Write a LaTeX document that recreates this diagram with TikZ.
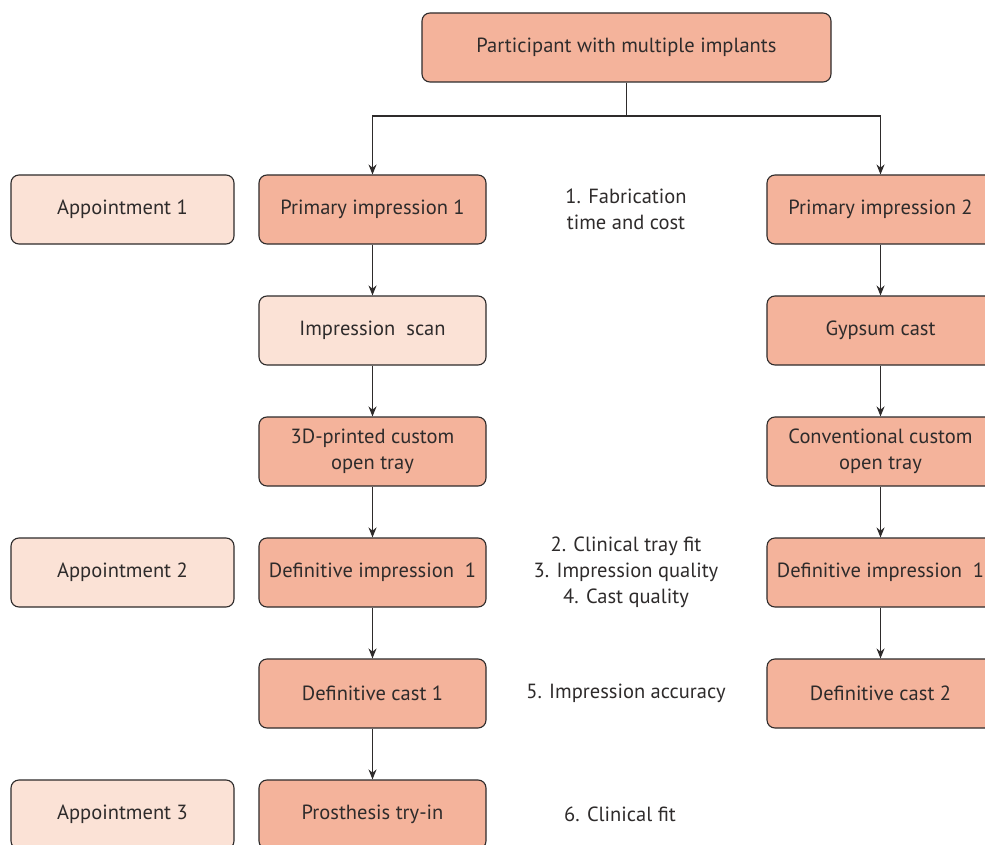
\documentclass[tikz,border=0pt]{standalone}
\usepackage{fontspec}
\setmainfont{PT Sans}
\usetikzlibrary{arrows.meta}
\definecolor{darkfill}{HTML}{F4B39B}
\definecolor{lightfill}{HTML}{FBE2D6}
\definecolor{edge}{HTML}{2E2B2B}
\tikzset{
  box/.style={draw=edge, line width=1.1pt, rounded corners=8pt, minimum width=227pt, minimum height=69pt, align=center, font=\fontsize{20.5}{26}\selectfont, text=edge, inner sep=2pt},
  dbox/.style={box, fill=darkfill},
  lbox/.style={box, fill=lightfill},
  note/.style={align=center, font=\fontsize{20.5}{26}\selectfont, text=edge},
  arr/.style={draw=edge, line width=1.1pt, -{Stealth[length=10pt,width=8pt]}},
  ln/.style={draw=edge, line width=1.1pt}
}
\begin{document}
\begin{tikzpicture}[x=1pt,y=-1pt]
\useasboundingbox (0,0) rectangle (985,845);
\clip (0,0) rectangle (985,845);
\fill[white] (0,0) rectangle (985,845);
\node[dbox, minimum width=409pt] (top) at (626.5,47.5) {Participant with multiple implants};
% left column
\node[dbox] (p1) at (372.5,209.5) {Primary impression 1};
\node[lbox] (p2) at (372.5,330.5) {Impression\ \ scan};
\node[dbox] (p3) at (372.5,451.5) {3D-printed custom\\open tray};
\node[dbox] (p4) at (372.5,572.5) {Definitive impression\ \ 1};
\node[dbox] (p5) at (372.5,693.5) {Definitive cast 1};
\node[dbox] (p6) at (372.5,814.5) {Prosthesis try-in};
% right column
\node[dbox] (q1) at (880.5,209.5) {Primary impression 2};
\node[dbox] (q2) at (880.5,330.5) {Gypsum cast};
\node[dbox] (q3) at (880.5,451.5) {Conventional custom\\open tray};
\node[dbox] (q4) at (880.5,572.5) {Definitive impression\ \ 1};
\node[dbox] (q5) at (880.5,693.5) {Definitive cast 2};
% appointments
\node[lbox, minimum width=223pt] (a1) at (122.5,209.5) {Appointment 1};
\node[lbox, minimum width=223pt] (a2) at (122.5,572.5) {Appointment 2};
\node[lbox, minimum width=223pt] (a3) at (122.5,814.5) {Appointment 3};
% notes
\node[note] (n1) at (626,209) {1. Fabrication\\time and cost};
\node[note] (n2) at (626,572) {2. Clinical tray fit\\3. Impression quality\\4. Cast quality};
\node[note] (n3) at (626,693) {5. Impression accuracy};
\node[note] (n4) at (620,814) {6. Clinical fit};
% connectors
\coordinate (j) at (626.5,116);
\draw[ln] (top.south) -- (j);
\draw[arr] (j) -| (p1.north);
\draw[arr] (j) -| (q1.north);
\draw[arr] (p1) -- (p2);
\draw[arr] (p2) -- (p3);
\draw[arr] (p3) -- (p4);
\draw[arr] (p4) -- (p5);
\draw[arr] (p5) -- (p6);
\draw[arr] (q1) -- (q2);
\draw[arr] (q2) -- (q3);
\draw[arr] (q3) -- (q4);
\draw[arr] (q4) -- (q5);
\end{tikzpicture}
\end{document}
